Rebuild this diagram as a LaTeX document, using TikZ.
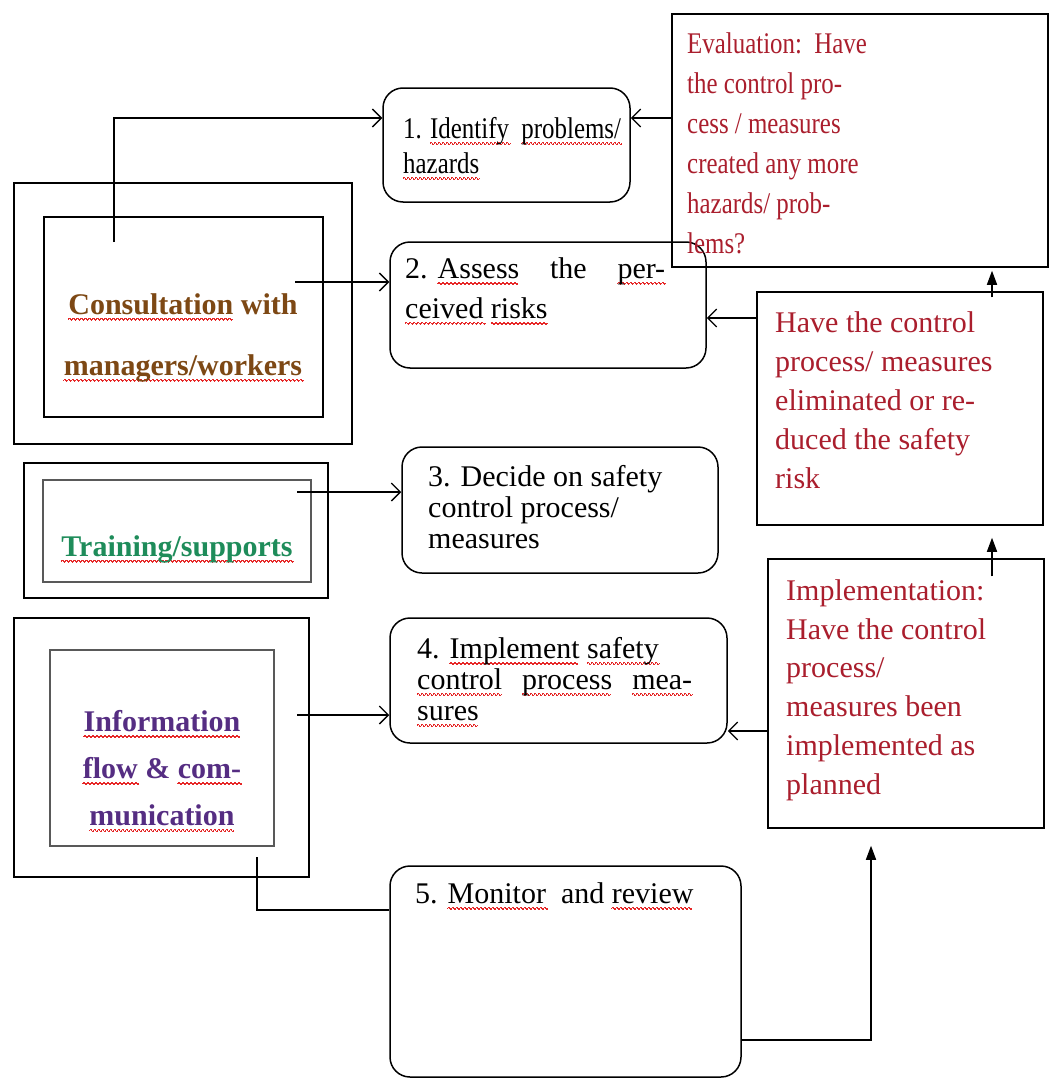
\documentclass[tikz,border=0pt]{standalone}
\usepackage{fontspec}
\setmainfont{Liberation Serif}
\newfontfamily\narrowfont[FakeStretch=0.83]{Liberation Serif}
\usetikzlibrary{arrows.meta,calc}
\definecolor{sqred}{RGB}{230,40,40}
\definecolor{txtred}{RGB}{170,30,45}
\definecolor{txtbrown}{RGB}{125,72,20}
\definecolor{txtgreen}{RGB}{30,140,90}
\definecolor{txtpurple}{RGB}{85,45,130}
\newsavebox\wvword
\newcommand\jline[2]{\makebox[#1][s]{#2}}
\newcommand\wv[1]{\sbox\wvword{#1}%
  \rlap{\raisebox{-5pt}[0pt][0pt]{\color{sqred}\setlength\unitlength{1pt}%
    \begin{picture}(0,0)\thicklines
      \multiput(0,0)(4,0){\numexpr\wd\wvword/262144\relax}{\qbezier(0,0)(1,1.6)(2,0)\qbezier(2,0)(3,-1.6)(4,0)}%
    \end{picture}}}%
  \usebox\wvword}
\begin{document}
\begin{tikzpicture}[x=1pt,y=1pt,
  box/.style={draw,line width=1.5pt,inner sep=0pt},
  rbox/.style={box,rounded corners=20pt},
  gbox/.style={draw=black!65,line width=2.6pt,inner sep=0pt},
  txt/.style={inner sep=0pt,align=left,anchor=west},
  redtxt/.style={txt,text=txtred},
  lefttxt/.style={inner sep=0pt,align=center,font=\bfseries\fontsize{30}{61}\selectfont},
  conn/.style={line width=1.5pt},
  oarr/.style={conn,-{Straight Barb[length=9pt,width=18pt,line width=1.3pt]}},
  farr/.style={conn,-{Triangle[length=14pt,width=10pt]}}
]
\useasboundingbox (0,0) rectangle (1051,-1081);
\fill[white] (0,0) rectangle (1051,-1081);

% process boxes
\node[rbox,minimum width=247pt,minimum height=114pt] (b1) at (506.5,-145) {};
\node[rbox,minimum width=316pt,minimum height=126pt] (b2) at (548,-305) {};
\node[rbox,minimum width=316pt,minimum height=126pt] (b3) at (560,-510) {};
\node[rbox,minimum width=337pt,minimum height=125pt] (b4) at (558.5,-680.5) {};
\node[rbox,minimum width=351pt,minimum height=211pt] (b5) at (565.5,-971.5) {};

% right boxes
\node[box,minimum width=376pt,minimum height=253pt] (eval) at (860,-140.5) {};
\node[box,minimum width=286pt,minimum height=233pt] (mid) at (900,-408.5) {};
\node[box,minimum width=276pt,minimum height=269pt] (impl) at (906,-693.5) {};

% left boxes
\node[box,minimum width=338pt,minimum height=261pt] (consout) at (183,-313.5) {};
\node[box,minimum width=279pt,minimum height=200pt] (consin) at (183.5,-317) {};
\node[box,minimum width=304pt,minimum height=135pt] (trainout) at (176,-530.5) {};
\node[gbox,minimum width=268pt,minimum height=102pt] (trainin) at (177,-531) {};
\node[box,minimum width=295pt,minimum height=259pt] (infoout) at (161.5,-747.5) {};
\node[gbox,minimum width=224pt,minimum height=196pt] (infoin) at (162,-748) {};

% texts
\node[txt,font=\narrowfont\fontsize{30}{35}\selectfont] (t1) at (403,-145.5)
  {1. \wv{Identify}\ \ \wv{problems/}\\\wv{hazards}};
\node[txt,font=\fontsize{30}{40}\selectfont] (t2) at (405,-288)
  {\jline{260pt}{\hbox{2. \wv{Assess}} the \wv{per-}}\\\wv{ceived} \wv{risks}};
\node[txt,font=\fontsize{30}{31}\selectfont] (t3) at (428,-507.5)
  {3. Decide on safety\\control process/\\measures};
\node[txt,font=\fontsize{30}{31}\selectfont] (t4) at (417,-679)
  {4. \wv{Implement} \wv{safety}\\\jline{275pt}{\wv{control} \wv{process} \wv{mea-}}\\\wv{sures}};
\node[txt,font=\fontsize{30}{36}\selectfont] (t5) at (415,-893)
  {5. \wv{Monitor}\ \ and \wv{review}};

\node[redtxt,font=\narrowfont\fontsize{30}{40}\selectfont] (te) at (687,-143)
  {Evaluation:\ \ Have\\the control pro-\\cess / measures\\created any more\\hazards/ prob-\\lems?};
\node[redtxt,font=\fontsize{30}{39}\selectfont] (tm) at (775,-400)
  {Have the control\\process/ measures\\eliminated or re-\\duced the safety\\risk};
\node[redtxt,font=\fontsize{30}{38.8}\selectfont] (ti) at (786,-690)
  {Implementation:\\Have the control\\process/\\measures been\\implemented as\\planned};

\node[lefttxt,text=txtbrown] (tc) at (183,-337.5)
  {\wv{Consultation} with\\\wv{managers/workers}};
\node[lefttxt,text=txtgreen] (tt) at (177,-549)
  {\wv{Training/supports}};
\node[lefttxt,text=txtpurple,font=\bfseries\fontsize{30}{47}\selectfont] (tinfo) at (162,-768)
  {\wv{Information}\\\wv{flow} \& \wv{com-}\\\wv{munication}};

% connector start points
\coordinate (c1) at (114,-242);
\coordinate (c2) at (295,-282);
\coordinate (c3) at (297,-492);
\coordinate (c4) at (297,-715);
\coordinate (c5) at (257,-857);

% connectors
\draw[oarr] (c1) |- (b1.west |- 0,-118);
\draw[oarr] (c2) -- (b2.west |- 0,-282);
\draw[oarr] (c3) -- (b3.west |- 0,-492);
\draw[oarr] (c4) -- (b4.west |- 0,-715);
\draw[conn] (c5) |- (b5.west |- 0,-910);

\draw[oarr] (eval.west |- 0,-118) -- (b1.east |- 0,-118);
\draw[oarr] (mid.west |- 0,-318) -- (b2.east |- 0,-318);
\draw[oarr] (impl.west |- 0,-731) -- (b4.east |- 0,-731);

\draw[farr] ($(mid.north -| 992,0)+(0,-6)$) -- ($(eval.south -| 992,0)+(0,-3)$);
\draw[farr] ($(impl.north -| 992,0)+(0,-18)$) -- ($(mid.south -| 992,0)+(0,-12)$);
\draw[farr] (b5.east |- 0,-1040) -| ($(impl.south -| 871,0)+(0,-17)$);
\end{tikzpicture}
\end{document}
